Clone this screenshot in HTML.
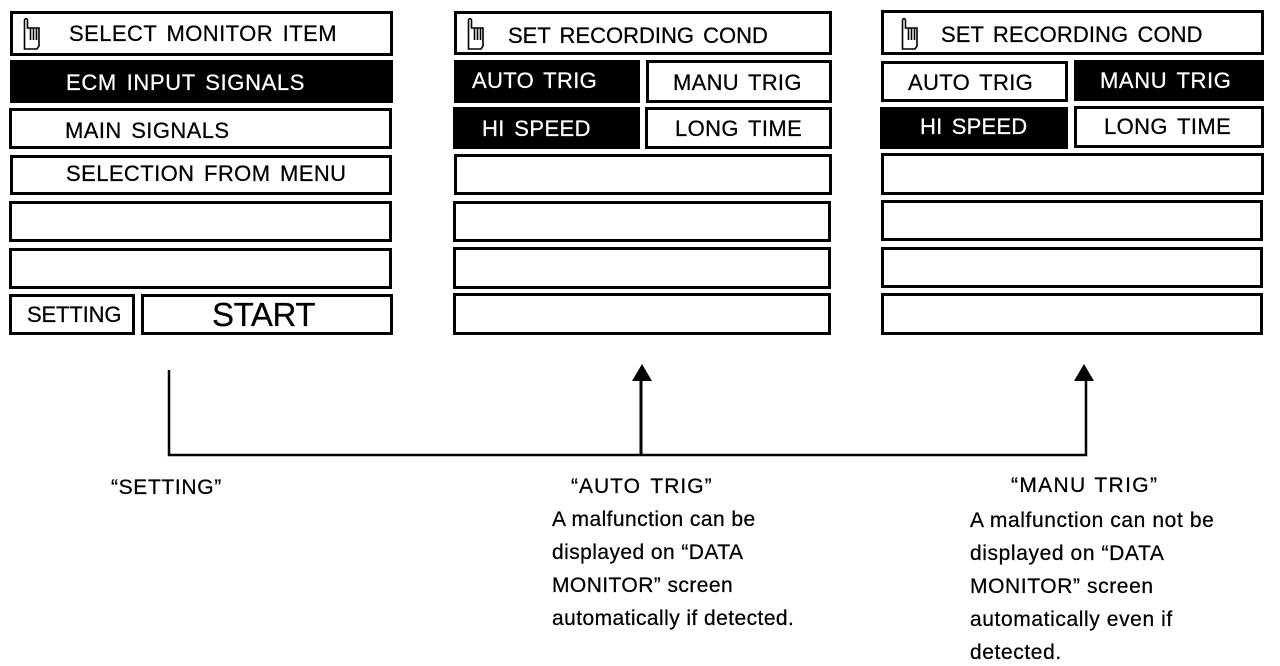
<!DOCTYPE html>
<html><head><meta charset="utf-8"><style>
html,body{margin:0;padding:0;background:#fff}
#c{position:relative;width:1280px;height:666px;overflow:hidden;background:#fff;font-family:"Liberation Sans",sans-serif;color:#000}
.b{position:absolute;box-sizing:border-box;border:3px solid #000;background:#fff}
.k{background:#000}
.x{position:absolute;font-size:22px;line-height:24px;height:24px;white-space:pre;word-spacing:3px;-webkit-text-stroke:.25px currentColor}
.w{color:#fff}
.t{position:absolute;font-size:21px;white-space:pre;line-height:33px;letter-spacing:.43px;-webkit-text-stroke:.25px #000}
svg{position:absolute;left:0;top:0}
</style></head><body><div id="c">
<div class="b" style="left:10px;top:11px;width:383px;height:45px"></div>
<div class="b k" style="left:10px;top:60px;width:383px;height:43px"></div>
<div class="b" style="left:9px;top:108px;width:383px;height:41px"></div>
<div class="b" style="left:10px;top:155px;width:382px;height:40px"></div>
<div class="b" style="left:9px;top:201px;width:383px;height:41px"></div>
<div class="b" style="left:9px;top:248px;width:383px;height:41px"></div>
<div class="b" style="left:9px;top:294px;width:126px;height:41px"></div>
<div class="b" style="left:141px;top:294px;width:252px;height:41px"></div>

<div class="b" style="left:454px;top:11px;width:378px;height:44px"></div>
<div class="b k" style="left:454px;top:60px;width:186px;height:43px"></div>
<div class="b" style="left:646px;top:60px;width:186px;height:43px"></div>
<div class="b k" style="left:453px;top:107px;width:187px;height:42px"></div>
<div class="b" style="left:645px;top:107px;width:187px;height:42px"></div>
<div class="b" style="left:454px;top:154px;width:378px;height:41px"></div>
<div class="b" style="left:453px;top:201px;width:378px;height:41px"></div>
<div class="b" style="left:453px;top:247px;width:378px;height:42px"></div>
<div class="b" style="left:453px;top:293px;width:378px;height:42px"></div>

<div class="b" style="left:881px;top:10px;width:383px;height:45px"></div>
<div class="b" style="left:881px;top:61px;width:187px;height:41px"></div>
<div class="b k" style="left:1074px;top:60px;width:190px;height:41px"></div>
<div class="b k" style="left:880px;top:107px;width:188px;height:42px"></div>
<div class="b" style="left:1074px;top:106px;width:190px;height:42px"></div>
<div class="b" style="left:881px;top:153px;width:383px;height:42px"></div>
<div class="b" style="left:881px;top:200px;width:382px;height:41px"></div>
<div class="b" style="left:881px;top:247px;width:382px;height:41px"></div>
<div class="b" style="left:881px;top:293px;width:382px;height:42px"></div>

<span class="x" style="left:69px;top:22px;letter-spacing:.45px">SELECT MONITOR ITEM</span>
<span class="x w" style="left:66px;top:71px;letter-spacing:.65px">ECM INPUT SIGNALS</span>
<span class="x" style="left:65px;top:119px;letter-spacing:.42px">MAIN SIGNALS</span>
<span class="x" style="left:66px;top:162px;letter-spacing:.42px">SELECTION FROM MENU</span>
<span class="x" style="left:27px;top:303px;letter-spacing:-.15px">SETTING</span>
<span class="x" style="left:212px;top:303px;font-size:33px;letter-spacing:-.4px">START</span>

<span class="x" style="left:508px;top:24px">SET RECORDING COND</span>
<span class="x w" style="left:472px;top:69px;letter-spacing:.35px">AUTO TRIG</span>
<span class="x" style="left:673px;top:71px;letter-spacing:.3px">MANU TRIG</span>
<span class="x w" style="left:482px;top:117px;letter-spacing:.4px">HI SPEED</span>
<span class="x" style="left:675px;top:117px;letter-spacing:.4px">LONG TIME</span>

<span class="x" style="left:941px;top:23px;letter-spacing:.1px">SET RECORDING COND</span>
<span class="x" style="left:908px;top:71px;letter-spacing:.35px">AUTO TRIG</span>
<span class="x w" style="left:1100px;top:69px;letter-spacing:.6px">MANU TRIG</span>
<span class="x w" style="left:920px;top:115px;letter-spacing:.2px">HI SPEED</span>
<span class="x" style="left:1104px;top:115px;letter-spacing:.4px">LONG TIME</span>

<svg width="1280" height="666">
<g fill="none" stroke="#000" stroke-width="1.6">
<g><path d="M24.5 49V20Q26 17 27.5 20V28H39V46L37 49Z"/><path d="M30.5 28V40M33.5 28V40M36.5 28V40"/></g>
<g transform="translate(444 0)"><path d="M24.5 49V20Q26 17 27.5 20V28H39V46L37 49Z"/><path d="M30.5 28V40M33.5 28V40M36.5 28V40"/></g>
<g transform="translate(878 0)"><path d="M24.5 49V20Q26 17 27.5 20V28H39V46L37 49Z"/><path d="M30.5 28V40M33.5 28V40M36.5 28V40"/></g>
<path d="M169 370V455H1086V380" stroke-width="2.5"/><path d="M641 455V380" stroke-width="3"/>
</g>
<path d="M642 364l-10 17h20zM1084 364l-10 17h20z" fill="#000"/>
</svg>

<div class="t" style="left:111px;top:471px;letter-spacing:.65px">“SETTING”</div>
<div class="t" style="left:571px;top:470px;letter-spacing:1px;word-spacing:3px">“AUTO TRIG”</div>
<div class="t" style="left:552px;top:503px;">A malfunction can be
displayed on “DATA
MONITOR” screen
automatically if detected.</div>
<div class="t" style="left:1011px;top:469px;letter-spacing:1.35px;word-spacing:1px">“MANU TRIG”</div>
<div class="t" style="left:970px;top:504px;letter-spacing:.6px">A malfunction can not be
displayed on “DATA
MONITOR” screen
automatically even if
detected.</div>
</div></body></html>
